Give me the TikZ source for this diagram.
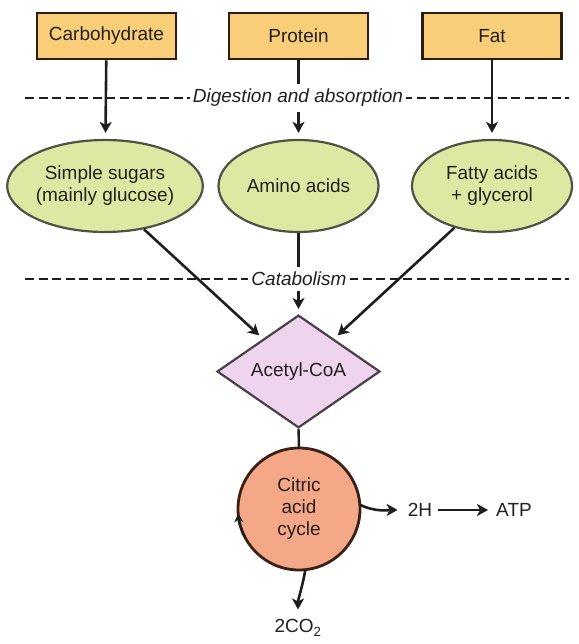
\documentclass[tikz,border=0pt]{standalone}
\usepackage{fontspec}
\setmainfont{Liberation Sans}
\usetikzlibrary{shapes.geometric,arrows.meta}
\definecolor{txt}{HTML}{231F20}
\definecolor{boxfill}{HTML}{F8CF78}
\definecolor{boxline}{HTML}{2B1D12}
\definecolor{ellfill}{HTML}{DDE9A3}
\definecolor{ellline}{HTML}{4F5244}
\definecolor{diafill}{HTML}{EED4EC}
\definecolor{dialine}{HTML}{4A4048}
\definecolor{cycfill}{HTML}{F5A887}
\definecolor{cycline}{HTML}{3A2015}
\definecolor{arrcol}{HTML}{1E1E1E}
\begin{document}
\begin{tikzpicture}[x=1pt,y=1pt,
  every node/.style={font=\fontsize{19}{22}\selectfont, text=txt},
  foodbox/.style={draw=boxline, line width=2.6pt, fill=boxfill, minimum width=139pt, minimum height=46pt, inner sep=0pt},
  prodell/.style={ellipse, draw=ellline, line width=2.2pt, fill=ellfill, minimum width=160pt, minimum height=92pt, inner sep=0pt, align=center},
  acbox/.style={diamond, draw=dialine, line width=2.2pt, fill=diafill, minimum width=163pt, minimum height=93pt, inner sep=0pt},
  cycbox/.style={circle, draw=cycline, line width=2.8pt, fill=cycfill, minimum size=122pt, inner sep=0pt, outer sep=0pt, align=center},
  stagelabel/.style={fill=white, inner xsep=3pt, inner ysep=5pt, font=\fontsize{19}{22}\selectfont\itshape},
  plainlabel/.style={inner sep=1pt},
  divider/.style={draw=arrcol, line width=2.6pt, dash pattern=on 9pt off 4.5pt},
  arr/.style={draw=arrcol, line width=2.6pt, -{Stealth[length=11pt,width=12pt,inset=3pt]}},
  link/.style={draw=arrcol, line width=2.4pt}
]
\useasboundingbox (0,0) rectangle (578,644);

% food boxes
\node[foodbox] (carb) at (106.5,608) {Carbohydrate};
\node[foodbox] (prot) at (298.5,608) {Protein};
\node[foodbox] (fat)  at (492,608) {Fat};

% dividers
\draw[divider] (25,546) -- (569,546);
\draw[divider] (25,365) -- (569,365);

% products
\node[prodell] (ss) at (105,458) {Simple sugars\\(mainly glucose)};
\node[prodell] (aa) at (298.5,458) {Amino acids};
\node[prodell] (fa) at (492,458) {Fatty acids\\+ glycerol};

% acetyl-CoA and cycle
\node[acbox] (acoa) at (298.5,272.5) {Acetyl-CoA};
\node[cycbox] (cac) at (299,135) {Citric\\acid\\cycle};

% outputs
\node[plainlabel] (h2) at (420,134) {2H};
\node[plainlabel] (atp) at (514,134) {ATP};
\node[plainlabel] (co2) at (298,16) {2CO\textsubscript{2}};

% connectors
\draw[arr, shorten >=6pt] (carb) -- (ss);
\draw[arr, shorten >=6pt] (prot) -- (aa);
\draw[arr, shorten >=6pt] (fat) -- (fa);
\draw[arr, shorten >=5pt] (ss.-48) -- (acoa);
\draw[arr, shorten >=5pt] (aa) -- (acoa);
\draw[arr, shorten >=5pt] (fa.-132) -- (acoa);
\draw[link] (acoa.south) -- (cac.north);
\draw[arr, shorten >=9pt] (cac.4) to[out=-25,in=180] (h2.west);
\draw[arr, shorten <=5pt, shorten >=7pt] (h2.east) -- (atp.west);
\draw[arr, shorten >=9pt] (cac.-84) to[out=-100,in=90] (co2.north);
\draw[line width=2.4pt, draw=arrcol, -{Stealth[length=9pt,width=9pt]}] (cac.207) arc[start angle=207, end angle=184, radius=61pt];

% stage labels
\node[stagelabel] (dig) at (298,546) {Digestion and absorption};
\node[stagelabel] (cat) at (299,365) {Catabolism};
\end{tikzpicture}
\end{document}
